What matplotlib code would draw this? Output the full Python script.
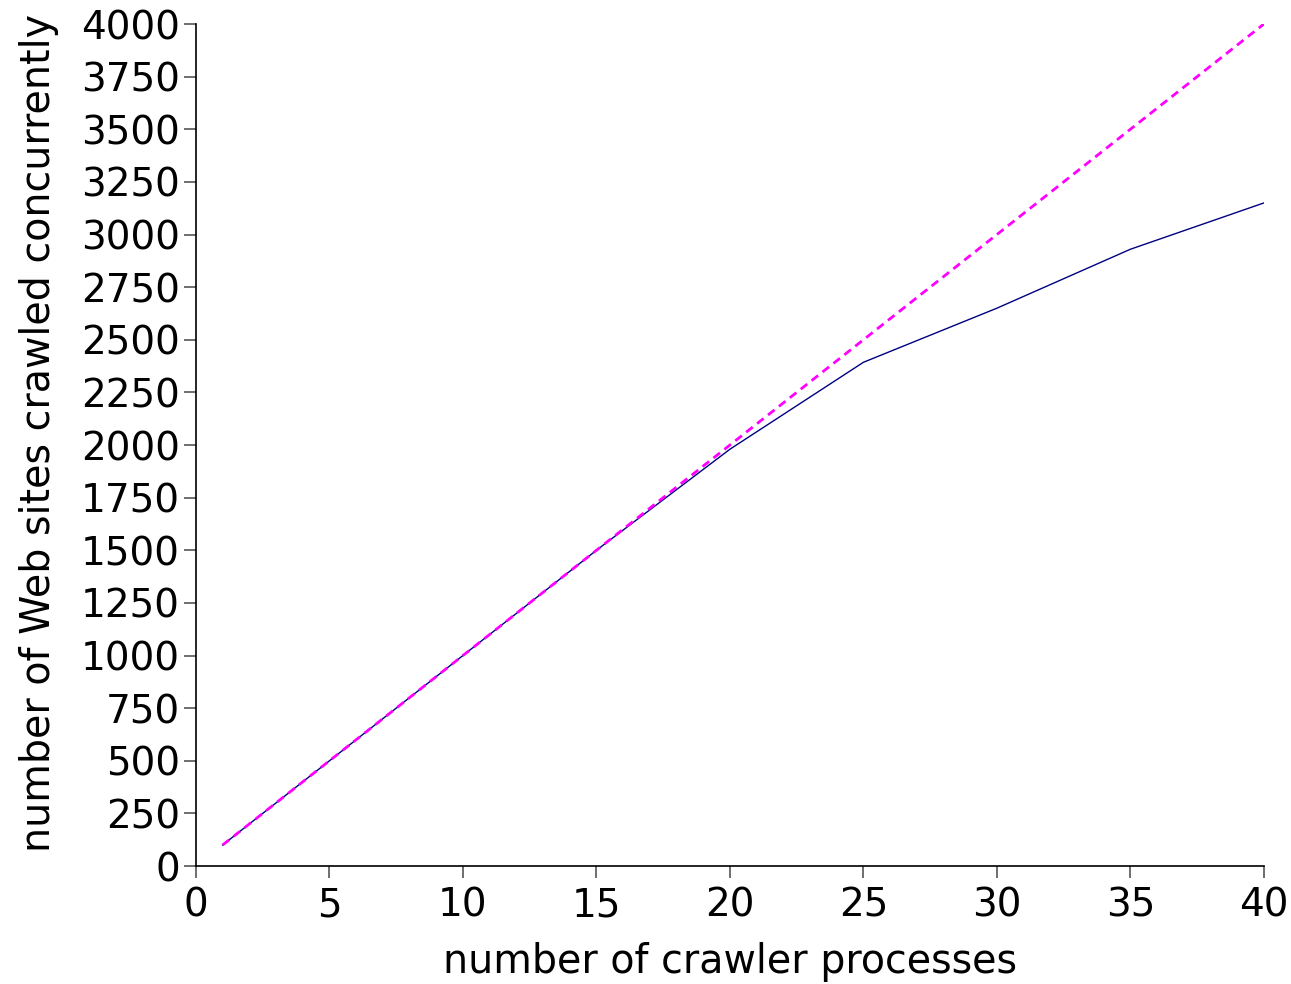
import matplotlib
matplotlib.use('Agg')
import matplotlib.pyplot as plt

# crawler processes vs sites crawled concurrently
processes = [1, 5, 10, 15, 20, 25, 30, 35, 40]
sites_measured = [100, 500, 1000, 1500, 1980, 2393, 2650, 2930, 3150]
ideal_x = [1, 40]
ideal_y = [100, 4000]

fig = plt.figure(figsize=(12.91, 9.84), dpi=100)
ax = fig.add_axes([0.1518, 0.1199, 0.8272, 0.8557])

ax.plot(processes, sites_measured, color='#000080', linewidth=1.0)
ax.plot(ideal_x, ideal_y, color='#ff00ff', linewidth=2.0, linestyle=(0, (3, 2)))

ax.set_xlim(0, 40)
ax.set_ylim(0, 4000)
ax.set_xticks(range(0, 41, 5))
ax.set_yticks(range(0, 4001, 250))

for s in ['top', 'right']:
    ax.spines[s].set_visible(False)
ax.spines['left'].set_linewidth(1.2)
ax.spines['bottom'].set_linewidth(1.2)
ax.tick_params(axis='both', direction='out', length=8.5, width=1.2, color='#555555',
               labelsize=28)
ax.tick_params(axis='y', pad=3)
ax.tick_params(axis='x', pad=6)

ax.set_xlabel('number of crawler processes', fontsize=28.5, va='center')
ax.set_ylabel('number of Web sites crawled concurrently', fontsize=28.5, va='center')
ax.xaxis.set_label_coords(0.5, -0.114)
ax.yaxis.set_label_coords(-0.147, 0.514)

fig.savefig('out.png', dpi=100)
